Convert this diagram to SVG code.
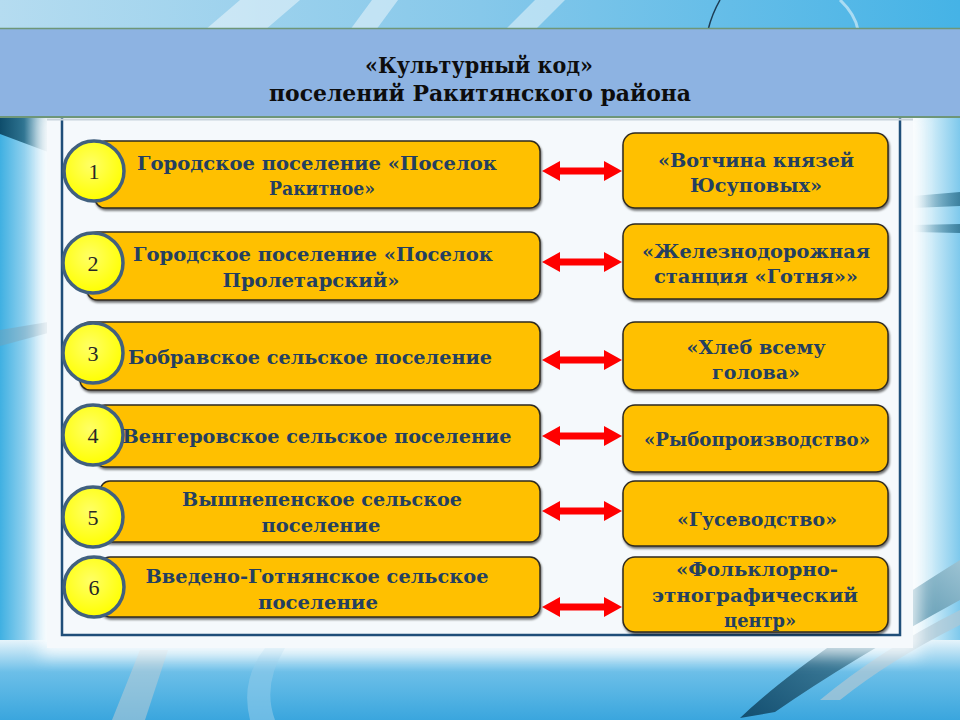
<svg xmlns="http://www.w3.org/2000/svg" width="960" height="720" viewBox="0 0 960 720">
<defs>
  <linearGradient id="bg" x1="0" y1="0" x2="0" y2="1">
    <stop offset="0" stop-color="#7FC6EA"/>
    <stop offset="0.35" stop-color="#BFE3F5"/>
    <stop offset="0.8" stop-color="#8ECFEE"/>
    <stop offset="1" stop-color="#3DA8DF"/>
  </linearGradient>
  <linearGradient id="topbg" x1="0" y1="0" x2="1" y2="0">
    <stop offset="0" stop-color="#B5DCF0"/>
    <stop offset="0.5" stop-color="#86C8EA"/>
    <stop offset="1" stop-color="#45B3E6"/>
  </linearGradient>
  <linearGradient id="botbg" x1="0" y1="0" x2="0" y2="1">
    <stop offset="0" stop-color="#E6F4FB"/>
    <stop offset="0.4" stop-color="#6CBFE8"/>
    <stop offset="1" stop-color="#3AA6DE"/>
  </linearGradient>
  <linearGradient id="sideL" x1="0" y1="0" x2="1" y2="0">
    <stop offset="0" stop-color="#3FB0E2"/>
    <stop offset="0.5" stop-color="#8FD0EE"/>
    <stop offset="1" stop-color="#EAF6FC"/>
  </linearGradient>
  <linearGradient id="sideR" x1="1" y1="0" x2="0" y2="0">
    <stop offset="0" stop-color="#7EC9EC"/>
    <stop offset="0.6" stop-color="#CDEBF8"/>
    <stop offset="1" stop-color="#F0F8FC"/>
  </linearGradient>
  <linearGradient id="teal" x1="0" y1="0" x2="1" y2="0">
    <stop offset="0" stop-color="#0E4D6B"/>
    <stop offset="0.5" stop-color="#2F7491"/>
    <stop offset="1" stop-color="#B7CFD9" stop-opacity="0.4"/>
  </linearGradient>
  <linearGradient id="tealR" x1="1" y1="0" x2="0" y2="0">
    <stop offset="0" stop-color="#2C6F8C"/>
    <stop offset="1" stop-color="#2C6F8C" stop-opacity="0"/>
  </linearGradient>
  <linearGradient id="tealBR" x1="0" y1="1" x2="1" y2="0">
    <stop offset="0" stop-color="#124E70"/>
    <stop offset="0.6" stop-color="#4F8FAA"/>
    <stop offset="1" stop-color="#9CC3D3"/>
  </linearGradient>
  <radialGradient id="yel" cx="0.45" cy="0.4" r="0.6">
    <stop offset="0" stop-color="#FFFF66"/>
    <stop offset="1" stop-color="#FFFF00"/>
  </radialGradient>
  <filter id="glow" x="-10%" y="-10%" width="120%" height="120%">
    <feGaussianBlur stdDeviation="8"/>
  </filter>
  <filter id="shadow" x="-5%" y="-10%" width="110%" height="130%">
    <feDropShadow dx="1" dy="2" stdDeviation="1" flood-color="#000" flood-opacity="0.55"/>
  </filter>
  <marker id="head" viewBox="0 0 18 20" refX="1" refY="10" markerWidth="18" markerHeight="20" markerUnits="userSpaceOnUse" orient="auto-start-reverse">
    <path d="M0,0 L18,10 L0,20 Z" fill="#FF0000"/>
  </marker>
  <style>
    .box{fill:#FFC000;stroke:#2E2A20;stroke-width:1.5;filter:url(#shadow);}
    .rbox{fill:#FFC000;stroke:#2E2A20;stroke-width:1.5;filter:url(#shadow);}
    .num{fill:url(#yel);stroke:#41607F;stroke-width:3.5;}
    .numt{font-family:"Liberation Serif","Times New Roman",serif;font-size:22px;fill:#262626;text-anchor:middle;}
    .t{font-family:"DejaVu Serif","Liberation Serif",serif;font-weight:bold;font-size:19px;fill:#243F60;text-anchor:middle;}
    .title{font-family:"DejaVu Serif","Liberation Serif",serif;font-weight:bold;font-size:22px;fill:#0D0D0D;text-anchor:middle;}
    .arrow{stroke:#FF0000;stroke-width:7;fill:none;marker-start:url(#head);marker-end:url(#head);}
  </style>
</defs>

<!-- background scene -->
<rect x="0" y="0" width="960" height="720" fill="url(#bg)"/>
<rect x="0" y="0" width="960" height="30" fill="url(#topbg)"/>
<g fill="#FFFFFF" opacity="0.45">
  <path d="M205,30 L240,0 L300,0 L265,30 Z"/>
  <path d="M350,30 L372,0 L398,0 L376,30 Z"/>
  <path d="M505,30 L535,0 L565,0 L535,30 Z"/>
</g>
<path d="M720,0 Q712,14 708,30" stroke="#1D3D55" stroke-width="1.5" fill="none"/>
<path d="M840,0 Q855,14 858,30" stroke="#FFFFFF" stroke-opacity="0.5" stroke-width="3" fill="none"/>
<!-- side strips -->
<rect x="0" y="117" width="48" height="531" fill="url(#sideL)"/>
<rect x="913" y="117" width="47" height="531" fill="url(#sideR)"/>
<path d="M0,117 L48,117 L48,152 L0,134 Z" fill="url(#teal)"/>
<path d="M0,330 L48,322 L48,333 L0,346 Z" fill="#7D9DAE" opacity="0.4"/>
<path d="M913,196 L960,192 L960,206 L913,208 Z" fill="url(#tealR)" opacity="0.8"/>
<path d="M913,225 L960,224 L960,233 L913,232 Z" fill="url(#tealR)" opacity="0.8"/>
<!-- bottom area -->
<rect x="0" y="640" width="960" height="80" fill="url(#botbg)"/>
<path d="M112,720 L140,650 L168,650 L145,720 Z" fill="#B9CCD6" opacity="0.55"/>
<path d="M250,720 Q240,680 265,648 L285,648 Q262,685 275,720 Z" fill="#8DC9EA" opacity="0.6"/>
<path d="M740,718 Q800,660 960,560 L960,600 Q850,660 775,712 Z" fill="url(#tealBR)"/>
<path d="M820,700 Q880,650 960,610 L960,625 Q890,660 840,700 Z" fill="#AFC8D4" opacity="0.7"/>

<!-- white panel -->
<rect x="40" y="112" width="880" height="544" fill="#FFFFFF" opacity="0.8" filter="url(#glow)"/>
<rect x="47" y="118" width="866" height="530" fill="#F5F9FC"/>
<rect x="62" y="100" width="838" height="535" fill="none" stroke="#1F4E79" stroke-width="2.5"/>

<!-- title band -->
<g id="title">
  <rect x="0" y="28" width="960" height="89" fill="#8DB3E2"/>
  <line x1="0" y1="28.5" x2="960" y2="28.5" stroke="#6E9678" stroke-width="1.5"/>
  <line x1="0" y1="117" x2="960" y2="117" stroke="#6E9678" stroke-width="2"/>
  <line x1="47" y1="119.5" x2="913" y2="119.5" stroke="#C8D3DC" stroke-width="2"/>
  <text class="title" x="479" y="73" textLength="228" lengthAdjust="spacingAndGlyphs">«Культурный код»</text>
  <text class="title" x="480" y="101" textLength="422" lengthAdjust="spacingAndGlyphs">поселений Ракитянского района</text>
</g>

<!-- connectors -->
<g id="connectors">
  <line class="arrow" x1="559" y1="171" x2="605" y2="171"/>
  <line class="arrow" x1="559" y1="262" x2="605" y2="262"/>
  <line class="arrow" x1="559" y1="360" x2="605" y2="360"/>
  <line class="arrow" x1="559" y1="436" x2="605" y2="436"/>
  <line class="arrow" x1="559" y1="511" x2="605" y2="511"/>
  <line class="arrow" x1="559" y1="607" x2="605" y2="607"/>
</g>

<!-- left nodes -->
<g id="left1">
  <rect class="box" x="95" y="141" width="445" height="67" rx="10"/>
  <circle class="num" cx="94" cy="171" r="30"/>
  <text class="numt" x="94" y="179">1</text>
  <text class="t" x="317" y="170" textLength="360" lengthAdjust="spacingAndGlyphs">Городское поселение «Поселок</text>
  <text class="t" x="322" y="195" textLength="106" lengthAdjust="spacingAndGlyphs">Ракитное»</text>
</g>
<g id="left2">
  <rect class="box" x="87" y="232" width="453" height="68" rx="10"/>
  <circle class="num" cx="93" cy="263" r="30"/>
  <text class="numt" x="93" y="271">2</text>
  <text class="t" x="313" y="261" textLength="360" lengthAdjust="spacingAndGlyphs">Городское поселение «Поселок</text>
  <text class="t" x="311" y="287" textLength="177" lengthAdjust="spacingAndGlyphs">Пролетарский»</text>
</g>
<g id="left3">
  <rect class="box" x="80" y="322" width="460" height="68" rx="10"/>
  <circle class="num" cx="93" cy="353" r="30"/>
  <text class="numt" x="93" y="361">3</text>
  <text class="t" x="310" y="364" textLength="364" lengthAdjust="spacingAndGlyphs">Бобравское сельское поселение</text>
</g>
<g id="left4">
  <rect class="box" x="95" y="405" width="445" height="62" rx="10"/>
  <circle class="num" cx="93" cy="435" r="30"/>
  <text class="numt" x="93" y="443">4</text>
  <text class="t" x="317" y="443" textLength="389" lengthAdjust="spacingAndGlyphs">Венгеровское сельское поселение</text>
</g>
<g id="left5">
  <rect class="box" x="100" y="481" width="440" height="61" rx="10"/>
  <circle class="num" cx="93" cy="517" r="30"/>
  <text class="numt" x="93" y="525">5</text>
  <text class="t" x="322" y="506" textLength="280" lengthAdjust="spacingAndGlyphs">Вышнепенское сельское</text>
  <text class="t" x="321" y="532" textLength="119" lengthAdjust="spacingAndGlyphs">поселение</text>
</g>
<g id="left6">
  <rect class="box" x="100" y="557" width="440" height="60" rx="10"/>
  <circle class="num" cx="94" cy="587" r="30"/>
  <text class="numt" x="94" y="595">6</text>
  <text class="t" x="317" y="583" textLength="343" lengthAdjust="spacingAndGlyphs">Введено-Готнянское сельское</text>
  <text class="t" x="318" y="609" textLength="120" lengthAdjust="spacingAndGlyphs">поселение</text>
</g>

<!-- right nodes -->
<g id="right1">
  <rect class="rbox" x="623" y="133" width="265" height="75" rx="12"/>
  <text class="t" x="756" y="167" textLength="196" lengthAdjust="spacingAndGlyphs">«Вотчина князей</text>
  <text class="t" x="756" y="192" textLength="132" lengthAdjust="spacingAndGlyphs">Юсуповых»</text>
</g>
<g id="right2">
  <rect class="rbox" x="623" y="224" width="265" height="75" rx="12"/>
  <text class="t" x="756" y="258" textLength="228" lengthAdjust="spacingAndGlyphs">«Железнодорожная</text>
  <text class="t" x="756" y="283" textLength="204" lengthAdjust="spacingAndGlyphs">станция «Готня»»</text>
</g>
<g id="right3">
  <rect class="rbox" x="623" y="322" width="265" height="68" rx="12"/>
  <text class="t" x="756" y="354" textLength="139" lengthAdjust="spacingAndGlyphs">«Хлеб всему</text>
  <text class="t" x="756" y="379" textLength="88" lengthAdjust="spacingAndGlyphs">голова»</text>
</g>
<g id="right4">
  <rect class="rbox" x="623" y="405" width="265" height="67" rx="12"/>
  <text class="t" x="757" y="446" textLength="226" lengthAdjust="spacingAndGlyphs">«Рыбопроизводство»</text>
</g>
<g id="right5">
  <rect class="rbox" x="623" y="481" width="265" height="65" rx="12"/>
  <text class="t" x="757" y="526" textLength="160" lengthAdjust="spacingAndGlyphs">«Гусеводство»</text>
</g>
<g id="right6">
  <rect class="rbox" x="623" y="557" width="265" height="75" rx="12"/>
  <text class="t" x="757" y="576" textLength="162" lengthAdjust="spacingAndGlyphs">«Фольклорно-</text>
  <text class="t" x="755" y="602" textLength="206" lengthAdjust="spacingAndGlyphs">этнографический</text>
  <text class="t" x="760" y="627" textLength="72" lengthAdjust="spacingAndGlyphs">центр»</text>
</g>
</svg>
